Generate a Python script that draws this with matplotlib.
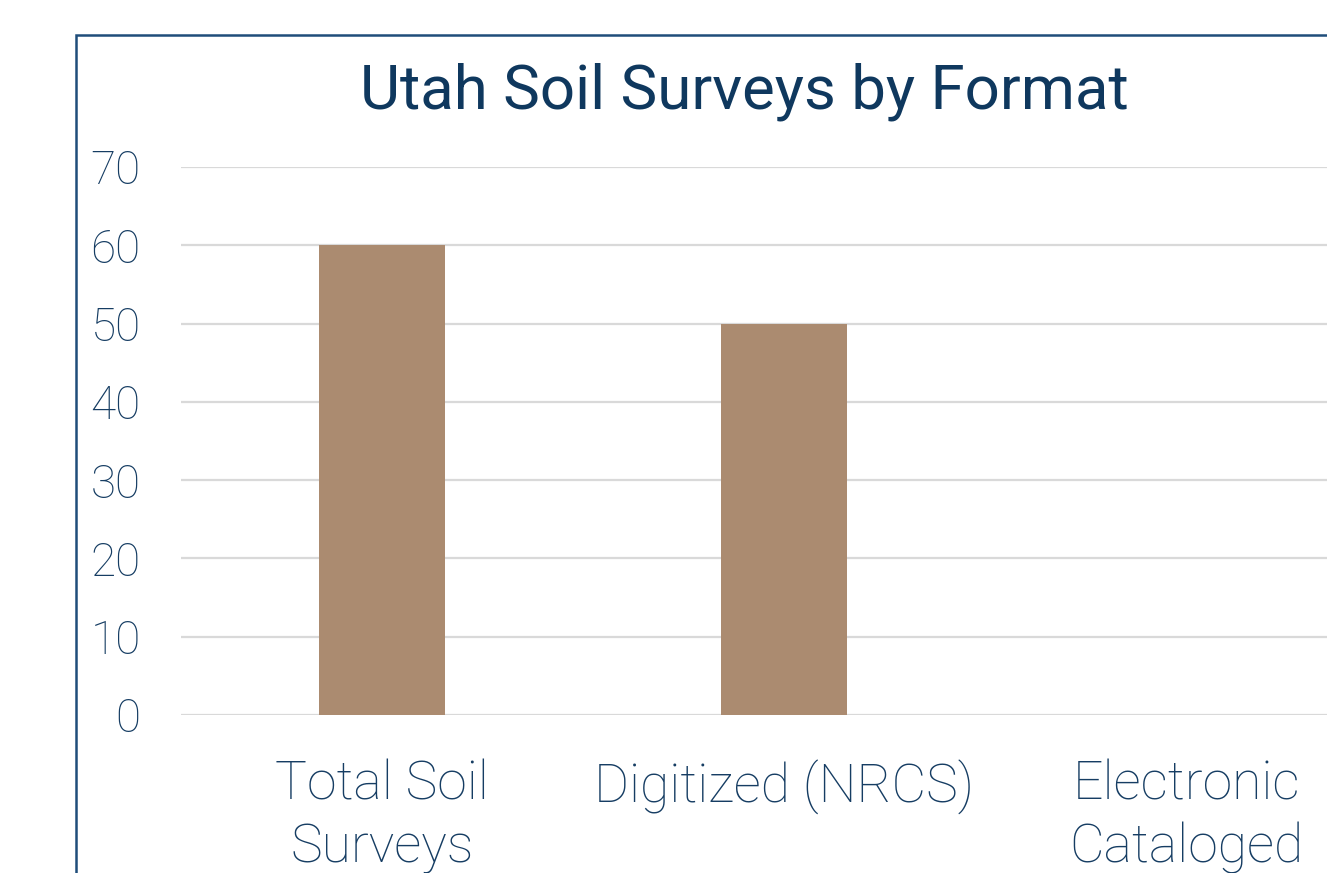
import matplotlib
matplotlib.use('Agg')
import matplotlib.pyplot as plt
from matplotlib.patches import Rectangle

categories = ['Total Soil\nSurveys', 'Digitized (NRCS)', 'Electronic\nCataloged']
counts = [60, 50, 0]
y_ticks = [0, 10, 20, 30, 40, 50, 60, 70]

navy = '#163d63'
bar_colour = '#ab8b70'
grid_colour = '#d9d9d9'

plt.rcParams['font.family'] = ['Roboto', 'DejaVu Sans']

figure = plt.figure(figsize=(13.27, 8.73), dpi=100)
# frame of the chart area, cut off at the right and bottom like the source
figure.patches.append(Rectangle((76 / 1327, -0.1), 1.0, 0.1 + (873 - 35) / 873,
                                transform=figure.transFigure, fill=False,
                                edgecolor='#1f4d7a', linewidth=1.8))

axis = figure.add_axes([181 / 1327, (873 - 715) / 873, 1206 / 1327, 548 / 873])
axis.bar(range(len(categories)), counts, width=0.313, color=bar_colour, zorder=2)
axis.set_xlim(-0.5, len(categories) - 0.5)
axis.set_ylim(0, 70)
axis.set_yticks(y_ticks)
axis.yaxis.grid(True, color=grid_colour, linewidth=1.6, zorder=0)
axis.set_axisbelow(True)
for side in ['top', 'right', 'left', 'bottom']:
    axis.spines[side].set_visible(False)
axis.tick_params(axis='both', length=0, colors=navy)
axis.tick_params(axis='y', pad=29, labelsize=33)
axis.tick_params(axis='x', pad=32, labelsize=38.5)
axis.set_xticks(range(len(categories)))
axis.set_xticklabels(categories, linespacing=1.27)
for label in axis.get_yticklabels() + axis.get_xticklabels():
    label.set_fontweight('light')
    label.set_color(navy)

figure.text(744 / 1327, (873 - 92) / 873, 'Utah Soil Surveys by Format',
            ha='center', va='center', fontsize=44.5, color='#0f385e')

figure.savefig('out.png', dpi=100)
